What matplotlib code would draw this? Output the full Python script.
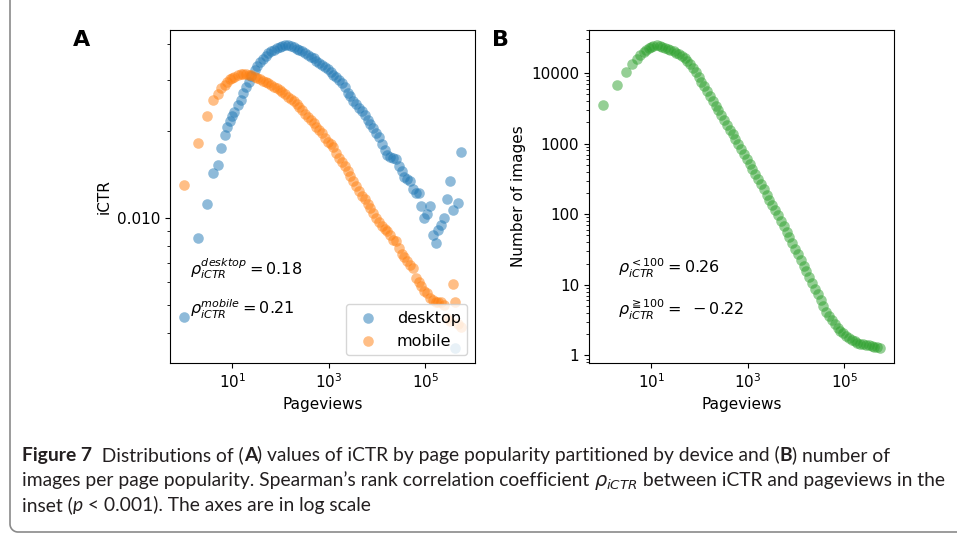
import numpy as np
import matplotlib
matplotlib.use("Agg")
from matplotlib import pyplot as plt
from matplotlib.ticker import FormatStrFormatter, NullFormatter, NullLocator, FuncFormatter
from matplotlib.lines import Line2D

# pageview bins (shared by both panels)
pageviews = [1, 2, 3, 4, 5, 6, 7, 8, 9, 10,
             11, 13, 15, 17, 19, 22, 25, 29, 33, 38,
             43, 49, 56, 64, 73, 84, 96, 110, 126, 144,
             165, 189, 216, 247, 283, 324, 371, 425, 486, 556,
             637, 729, 834, 955, 1093, 1251, 1432, 1640, 1877, 2149,
             2460, 2816, 3224, 3691, 4225, 4837, 5537, 6339, 7257, 8308,
             9511, 10888, 12465, 14270, 16336, 18701, 21409, 24509, 28058, 32121,
             36772, 42097, 48193, 55171, 63160, 72306, 82776, 94762, 108484, 124193,
             142176, 162764, 186333, 213315, 244204, 279566, 320048, 366393, 419448, 480186,
             549719]

ictr_desktop = [0.00453, 0.00853, 0.0112, 0.0143, 0.0153, 0.0175, 0.0194, 0.0207, 0.0216, 0.0225,
                0.0232, 0.0247, 0.0257, 0.0272, 0.0285, 0.0297, 0.0310, 0.0325, 0.0336, 0.0348,
                0.0356, 0.0365, 0.0372, 0.0378, 0.0383, 0.0388, 0.0392, 0.0395, 0.0397, 0.0397,
                0.0394, 0.0391, 0.0386, 0.0382, 0.0378, 0.0373, 0.0367, 0.0362, 0.0357, 0.0351,
                0.0345, 0.0339, 0.0333, 0.0327, 0.0320, 0.0314, 0.0308, 0.0300, 0.0293, 0.0284,
                0.0272, 0.0264, 0.0255, 0.0249, 0.0241, 0.0234, 0.0227, 0.0219, 0.0212, 0.0205,
                0.0197, 0.0191, 0.0181, 0.0172, 0.0165, 0.0163, 0.0162, 0.0160, 0.0151, 0.0145,
                0.0139, 0.0136, 0.0134, 0.0126, 0.0122, 0.0122, 0.0110, 0.0100, 0.0103, 0.0110,
                0.00876, 0.00819, 0.00911, 0.00947, 0.0100, 0.0116, 0.0134, 0.0107, 0.00355, 0.0113,
                0.0169]

ictr_mobile = [0.0130, 0.0182, 0.0225, 0.0257, 0.0269, 0.0282, 0.0290, 0.0296, 0.0302, 0.0306,
               0.0309, 0.0313, 0.0315, 0.0316, 0.0316, 0.0314, 0.0312, 0.0309, 0.0306, 0.0302,
               0.0299, 0.0297, 0.0293, 0.0289, 0.0285, 0.0281, 0.0278, 0.0273, 0.0268, 0.0263,
               0.0259, 0.0255, 0.0248, 0.0242, 0.0236, 0.0230, 0.0224, 0.0218, 0.0213, 0.0207,
               0.0202, 0.0197, 0.0190, 0.0184, 0.0180, 0.0176, 0.0168, 0.0162, 0.0156, 0.0151,
               0.0146, 0.0140, 0.0134, 0.0129, 0.0124, 0.0119, 0.0116, 0.0112, 0.0108, 0.0104,
               0.0100, 0.0097, 0.0094, 0.00915, 0.0090, 0.0087, 0.0084, 0.0083, 0.0079, 0.0075,
               0.0073, 0.0071, 0.0069, 0.0067, 0.0062, 0.0060, 0.0058, 0.0056, 0.0055, 0.0053,
               0.0052, 0.0051, 0.0051, 0.0051, 0.0050, 0.0045, 0.0044, 0.0059, 0.0051, 0.0043,
               0.0042]

n_images = [3560, 6670, 10200, 13400, 16000, 17800, 19700, 21400, 22600, 23700,
            24500, 24800, 24300, 23700, 22900, 22100, 21400, 20400, 19500, 18600,
            17600, 16200, 14800, 13300, 11900, 10300, 8830, 7550, 6460, 5520,
            4720, 4040, 3460, 2950, 2520, 2160, 1850, 1580, 1350, 1160,
            989, 838, 711, 603, 511, 434, 368, 312, 265, 224,
            190, 161, 137, 116, 98.2, 81.3, 67.6, 56.2, 46.8, 38.9,
            32.4, 26.9, 22.4, 18.6, 15.5, 12.8, 10.6, 8.81, 7.31, 6.07,
            5.01, 4.17, 3.59, 3.13, 2.75, 2.45, 2.24, 2.07, 1.91, 1.78,
            1.68, 1.58, 1.51, 1.46, 1.43, 1.41, 1.39, 1.36, 1.33, 1.30,
            1.28]

rho_a = [r"$\rho_{iCTR}^{desktop} = 0.18$", r"$\rho_{iCTR}^{mobile} = 0.21$"]
rho_b = [r"$\rho_{iCTR}^{<100} = 0.26$", r"$\rho_{iCTR}^{\geqq 100} = \ -0.22$"]

W, H = 957, 533
fig = plt.figure(figsize=(W / 100, H / 100), dpi=100)
fs = 11
ms = 58

ax1 = fig.add_axes([170 / W, 1 - 363 / H, 305 / W, 333 / H])
ax2 = fig.add_axes([589 / W, 1 - 363 / H, 305 / W, 333 / H])

ax1.scatter(pageviews, ictr_desktop, s=ms, alpha=0.5, color='#1f77b4', linewidths=0, label='desktop')
ax1.scatter(pageviews, ictr_mobile, s=ms, alpha=0.5, color='#ff7f0e', linewidths=0, label='mobile')
ax2.scatter(pageviews, n_images, s=ms, alpha=0.5, color='#2ca02c', linewidths=0)

for ax in (ax1, ax2):
    ax.set_xscale('log')
    ax.set_yscale('log')
    ax.set_xticks([10, 1e3, 1e5])
    ax.xaxis.set_minor_locator(NullLocator())
    ax.tick_params(labelsize=fs)
    ax.set_xlabel('Pageviews', fontsize=fs)

ax1.yaxis.set_major_formatter(FormatStrFormatter('%.3f'))
ax1.yaxis.set_minor_formatter(NullFormatter())
ax1.set_ylabel('iCTR', fontsize=fs)
ax2.yaxis.set_major_formatter(FuncFormatter(lambda v, p: '%d' % round(v)))
ax2.yaxis.set_minor_formatter(NullFormatter())
ax2.set_ylabel('Number of images', fontsize=fs)

ax1.legend(loc='lower right', fontsize=11.5)

ax1.text(0.066, 0.285, rho_a[0], transform=ax1.transAxes, fontsize=11.5, va='center')
ax1.text(0.066, 0.16, rho_a[1], transform=ax1.transAxes, fontsize=11.5, va='center')
ax2.text(0.095, 0.285, rho_b[0], transform=ax2.transAxes, fontsize=11.5, va='center')
ax2.text(0.095, 0.16, rho_b[1], transform=ax2.transAxes, fontsize=11.5, va='center')

fig.text(82 / W, 1 - 40 / H, 'A', fontsize=16, fontweight='bold', ha='center', va='center')
fig.text(501 / W, 1 - 40 / H, 'B', fontsize=16, fontweight='bold', ha='center', va='center')

# caption, drawn run by run
cap_font = ['Lato', 'DejaVu Sans']
renderer = fig.canvas.get_renderer()

line1 = [("Figure 7", dict(fontweight='bold')),
         ("  Distributions of (", {}), ("A", dict(fontweight='bold')),
         (") values of iCTR by page popularity partitioned by device and (", {}),
         ("B", dict(fontweight='bold')), (") number of", {})]
line2 = [("images per page popularity. Spearman’s rank correlation coefficient ", {}),
         (r"$\rho_{iCTR}$", {}), (" between iCTR and pageviews in the", {})]
line3 = [("inset (", {}), ("p", dict(style='italic')),
         (" < 0.001). The axes are in log scale", {})]


def draw_runs(x_px, y_px, runs, size):
    x = x_px / W
    texts = []
    for s, kw in runs:
        t = fig.text(x, 1 - y_px / H, s, fontsize=size, family=cap_font, va='baseline',
                     color='#231f20', **kw)
        texts.append(t)
        x += t.get_window_extent(renderer).width / fig.bbox.width
    return texts, x * W - x_px


# fit the caption size so the first two lines span about as in the original
tmp1, w1 = draw_runs(22, 461, line1, 10)
tmp2, w2 = draw_runs(22, 486, line2, 10)
for t in tmp1 + tmp2:
    t.remove()
cap_size = 10 * (881 + 915) / (w1 + w2)

draw_runs(22, 461, line1, cap_size)
draw_runs(22, 486, line2, cap_size)
draw_runs(22, 511, line3, cap_size)

# rounded frame around the figure
r = 8
ang = np.linspace(np.pi, 1.5 * np.pi, 20)
fx = [10, 10] + list(10 + r + r * np.cos(ang)) + [W + 10]
fy = [-5, 532 - r] + list(532 - r - r * np.sin(ang)) + [532]
fig.add_artist(Line2D(np.array(fx) / W, 1 - np.array(fy) / H, transform=fig.transFigure,
                      color='#8a8a8a', lw=1.2))

fig.savefig('out.png', dpi=100)
